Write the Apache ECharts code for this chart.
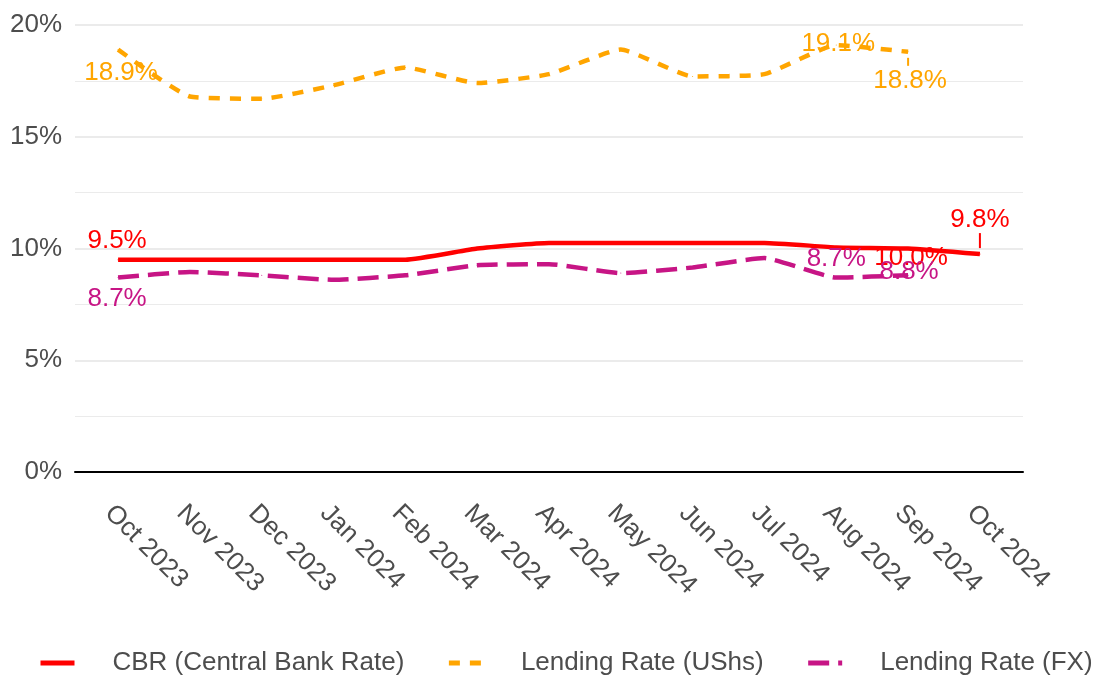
<!DOCTYPE html>
<html>
<head>
<meta charset="utf-8">
<script src="https://cdn.jsdelivr.net/npm/echarts@6/dist/echarts.min.js"></script>
<style>
  html, body { margin: 0; padding: 0; background: #fff; }
  #main { width: 1099px; height: 677px; }
</style>
</head>
<body>
<div id="main"></div>
<script>
// months on the x axis
const months = ['Oct 2023', 'Nov 2023', 'Dec 2023', 'Jan 2024', 'Feb 2024', 'Mar 2024',
  'Apr 2024', 'May 2024', 'Jun 2024', 'Jul 2024', 'Aug 2024', 'Sep 2024', 'Oct 2024'];
const yTicks = [0, 5, 10, 15, 20];

// rates in percent
const cbr = [9.5, 9.5, 9.5, 9.5, 9.5, 10.0, 10.25, 10.25, 10.25, 10.25, 10.05, 10.0, 9.75];
const lendingUshs = [18.9, 16.8, 16.7, 17.3, 18.1, 17.4, 17.8, 18.9, 17.7, 17.8, 19.1, 18.8];
const lendingFx = [8.7, 8.95, 8.8, 8.6, 8.8, 9.25, 9.3, 8.9, 9.15, 9.57, 8.7, 8.8];

// where the value labels sit (dx, dy in px from the point)
const labelSpots = {
  cbr: { 0: [-1, -19], 11: [3, 9], 12: [0, -34] },
  ushs: { 0: [3, 23], 10: [2, -1], 11: [2, 29] },
  fx: { 0: [-1, 21], 10: [0, -19], 11: [1, -3] }
};
// short leader segments: [series key, index, px from point to start, px to end]
const leaders = [['cbr', 12, -6, -21], ['ushs', 11, 6, 14]];

const font = 'Liberation Sans, Arial, sans-serif';
const grey = '#4d4d4d';
const colors = { cbr: '#ff0000', ushs: '#ffa500', fx: '#c71585' };
const valuesByKey = { cbr: cbr, ushs: lendingUshs, fx: lendingFx };

function buildData(values, key) {
  return values.map(function (v, i) {
    const item = { value: [i, v] };
    const spot = labelSpots[key][i];
    if (spot) {
      item.label = {
        show: true,
        position: 'inside',
        offset: spot,
        formatter: v.toFixed(1) + '%',
        color: colors[key],
        fontSize: 26,
        fontFamily: font
      };
    }
    return item;
  });
}

function makeSeries(name, key, dash) {
  return {
    name: name,
    type: 'line',
    smooth: 0.15,
    symbol: 'circle',
    symbolSize: 1,
    showSymbol: true,
    itemStyle: { color: colors[key] },
    lineStyle: { color: colors[key], width: 4.5, type: dash, cap: 'butt' },
    emphasis: { disabled: true },
    data: buildData(valuesByKey[key], key)
  };
}

const chart = echarts.init(document.getElementById('main'));

const option = {
  animation: false,
  backgroundColor: '#fff',
  grid: { left: 75, right: 76, top: 25, bottom: 205, containLabel: false },
  legend: {
    left: 38,
    top: 650,
    width: 1061,
    padding: 0,
    itemWidth: 34,
    itemHeight: 14,
    itemGap: 42,
    itemStyle: { opacity: 0 },
    lineStyle: { width: 5 },
    textStyle: { color: grey, fontSize: 26, fontFamily: font, padding: [0, 0, 0, 33] },
    data: ['CBR (Central Bank Rate)', 'Lending Rate (UShs)', 'Lending Rate (FX)']
  },
  xAxis: {
    type: 'value',
    min: -0.6,
    max: 12.6,
    axisLine: { show: true, onZero: true, lineStyle: { color: '#000', width: 2 } },
    axisTick: { show: false },
    splitLine: { show: false },
    axisLabel: {
      customValues: months.map(function (m, i) { return i; }),
      formatter: function (v) { return months[v] || ''; },
      rotate: -45,
      align: 'left',
      verticalAlign: 'top',
      margin: 28,
      color: grey,
      fontSize: 26,
      fontFamily: font
    }
  },
  yAxis: {
    type: 'value',
    min: 0,
    max: 20,
    interval: 5,
    axisLine: { show: false },
    axisTick: { show: false },
    axisLabel: {
      customValues: yTicks,
      formatter: function (v) { return v + '%'; },
      margin: 13,
      color: grey,
      fontSize: 26,
      fontFamily: font
    },
    splitLine: { show: true, lineStyle: { color: '#ebebeb', width: 2 } },
    minorTick: { show: false, splitNumber: 2 },
    minorSplitLine: { show: true, lineStyle: { color: '#ebebeb', width: 1.2 } }
  },
  series: [
    makeSeries('CBR (Central Bank Rate)', 'cbr', 'solid'),
    makeSeries('Lending Rate (UShs)', 'ushs', [11, 10]),
    makeSeries('Lending Rate (FX)', 'fx', [21, 9])
  ]
};

chart.setOption(option);

// leader lines, placed through the chart's own scale
const leaderGraphics = leaders.map(function (l) {
  const key = l[0], i = l[1];
  const p = chart.convertToPixel({ gridIndex: 0 }, [i, valuesByKey[key][i]]);
  return {
    type: 'line',
    silent: true,
    shape: { x1: p[0], y1: p[1] + l[2], x2: p[0], y2: p[1] + l[3] },
    style: { stroke: colors[key], lineWidth: 2 }
  };
});
chart.setOption({ graphic: leaderGraphics });
</script>
</body>
</html>
